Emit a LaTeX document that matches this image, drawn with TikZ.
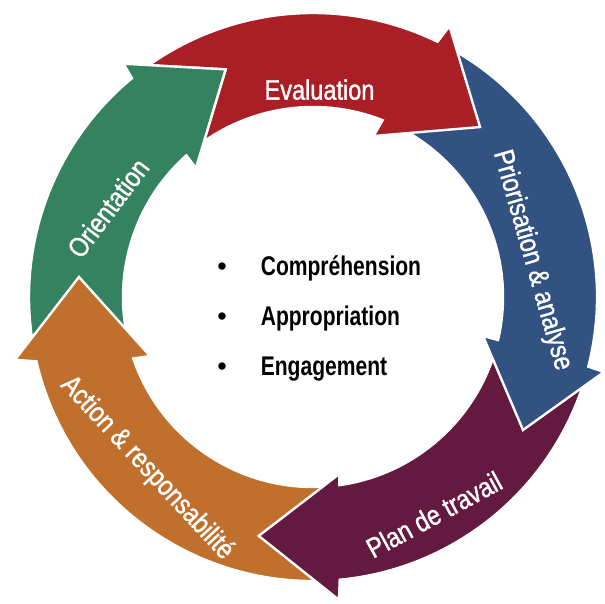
\documentclass[tikz,border=0pt]{standalone}
\usepackage{fontspec}
\setmainfont{Liberation Sans}
\newfontfamily\lblfont{Liberation Sans}[FakeStretch=0.84, FakeBold=1.2]
\newfontfamily\ctrfont{Liberation Sans}[FakeStretch=0.78, UprightFont=* Bold]
\newfontfamily\bulletfont{Liberation Sans}
\definecolor{evalred}{RGB}{170,31,38}
\definecolor{priblue}{RGB}{50,82,130}
\definecolor{planpurple}{RGB}{100,26,64}
\definecolor{actorange}{RGB}{192,112,44}
\definecolor{origreen}{RGB}{52,130,95}
\def\Ro{284pt}
\def\Ri{190pt}
% full arrow: color, tail angle, outer end, inner end, outer barb, tip, inner barb
\newcommand\cycarrow[7]{%
  \path[band, fill=#1] (#2:\Ro) arc[start angle=#2, end angle=#3, radius=\Ro]
    -- (#5) -- (#6) -- (#7) -- (#4:\Ri) arc[start angle=#4, end angle=#2, radius=\Ri] -- cycle;}
% head redraw (open outline, no seam line)
\newcommand\cychead[7]{%
  \path[band, fill=#1] (#2:\Ro) arc[start angle=#2, end angle=#3, radius=\Ro]
    -- (#5) -- (#6) -- (#7) -- (#4:\Ri) arc[start angle=#4, end angle=#2, radius=\Ri];}
\tikzset{
  band/.style={draw=white, line width=2.4pt, line join=miter, miter limit=10},
  lbl/.style={text=white, font=\lblfont\fontsize{28}{30}\selectfont, inner sep=0pt},
  ctr/.style={font=\ctrfont\fontsize{27}{30}\selectfont, inner sep=0pt, anchor=base west},
  bul/.style={font=\bulletfont\fontsize{27}{30}\selectfont, inner sep=0pt, anchor=base},
}
\begin{document}
\begin{tikzpicture}[x=1pt, y=1pt]
\useasboundingbox (0,0) rectangle (605,603);
\fill[white] (0,0) rectangle (605,603);
\begin{scope}[shift={(313,306)}]
  % pass 1: full arrows
  \cycarrow{evalred}{135}{64.0}{68.5}{63.25:303.3pt}{45.5:238.3pt}{69.4:172pt}
  \cycarrow{priblue}{72}{-14.2}{-13.1}{-14.45:300.5pt}{-32.35:248.6pt}{-12.9:174.4pt}
  \cycarrow{planpurple}{-10}{-84.6}{-82.0}{-85.1:304pt}{-102.8:245pt}{-81.6:179pt}
  \cycarrow{actorange}{281}{193.1}{198.9}{191.9:304.6pt}{175.1:234.9pt}{199.9:173.3pt}
  \cycarrow{origreen}{203}{129.6}{131.8}{129.1:300.6pt}{111:243.8pt}{132.2:174.2pt}
  % pass 2: heads over the following tails
  \cychead{evalred}{77}{64.0}{68.5}{63.25:303.3pt}{45.5:238.3pt}{69.4:172pt}
  \cychead{priblue}{-5}{-14.2}{-13.1}{-14.45:300.5pt}{-32.35:248.6pt}{-12.9:174.4pt}
  \cychead{planpurple}{-74}{-84.6}{-82.0}{-85.1:304pt}{-102.8:245pt}{-81.6:179pt}
  \cychead{actorange}{208}{193.1}{198.9}{191.9:304.6pt}{175.1:234.9pt}{199.9:173.3pt}
  \cychead{origreen}{140}{129.6}{131.8}{129.1:300.6pt}{111:243.8pt}{132.2:174.2pt}
\end{scope}
% labels
\node[lbl, anchor=base] (eval) at (319.5,503.4) {Evaluation};
\node[lbl, rotate=-74] (prio) at (532,342.6) {Priorisation \& analyse};
\node[lbl, rotate=28.5] (plan) at (434,88.5) {Plan de travail};
\node[lbl, rotate=-47] (act) at (147,134.8) {Action \& responsabilité};
\node[lbl, rotate=53] (ori) at (108,395) {Orientation};
% centre list
\node[bul] (b1) at (222,327) {•};
\node[bul] (b2) at (222,277) {•};
\node[bul] (b3) at (222,227.5) {•};
\node[ctr] (t1) at (260.6,327) {Compréhension};
\node[ctr] (t2) at (260.6,277) {Appropriation};
\node[ctr] (t3) at (260.6,227.5) {Engagement};
\end{tikzpicture}
\end{document}
